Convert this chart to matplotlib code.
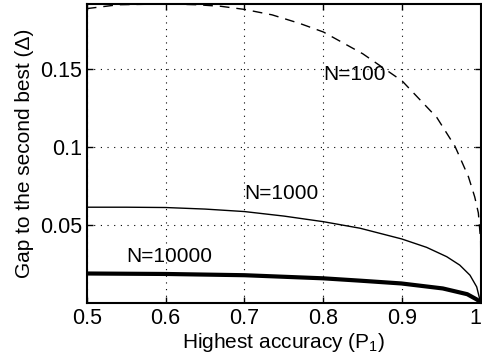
import matplotlib
matplotlib.use("Agg")
import matplotlib.pyplot as plt

plt.rcParams['font.family'] = ['Liberation Sans', 'DejaVu Sans']
plt.rcParams['mathtext.fontset'] = 'custom'
plt.rcParams['mathtext.rm'] = 'Liberation Sans'

# values
p100 = [0.5, 0.54, 0.6, 0.64, 0.67, 0.7, 0.735, 0.77, 0.8, 0.85, 0.9, 0.944,
        0.967, 0.984, 0.992, 0.9966, 0.9995, 1.0]
d100 = [0.189, 0.1915, 0.192, 0.1915, 0.1905, 0.1885, 0.185, 0.1795, 0.174, 0.160,
        0.1425, 0.119, 0.1005, 0.081, 0.068, 0.0577, 0.040, 0.0]

p1000 = [0.5, 0.55, 0.6, 0.65, 0.7, 0.75, 0.8, 0.8465, 0.8994, 0.931, 0.9565,
         0.973, 0.986, 0.9945, 0.9987, 1.0]
d1000 = [0.0614, 0.0614, 0.0612, 0.0602, 0.0586, 0.0557, 0.0521, 0.0479, 0.041,
         0.0356, 0.0296, 0.0242, 0.0177, 0.0102, 0.0016, 0.0]

p10000 = [0.5, 0.6, 0.7, 0.8, 0.8465, 0.899, 0.9515, 0.9825, 0.995, 1.0]
d10000 = [0.0188, 0.0185, 0.0177, 0.0157, 0.0142, 0.0124, 0.0092, 0.0055, 0.0020, 0.0]

xticks = [0.5, 0.6, 0.7, 0.8, 0.9, 1.0]
xticklabels = ["0.5", "0.6", "0.7", "0.8", "0.9", "1"]
yticks = [0.05, 0.1, 0.15]
yticklabels = ["0.05", "0.1", "0.15"]

fig = plt.figure(figsize=(4.82, 3.6), dpi=100)
ax = fig.add_axes([0.180, 0.159, 0.818, 0.830])

ax.plot(p100, d100, 'k', lw=1.0, dashes=(7, 5))
ax.plot(p1000, d1000, 'k-', lw=1.0)
ax.plot(p10000, d10000, 'k-', lw=3.0)

ax.text(0.839, 0.1468, "N=100", fontsize=15, ha='center', va='center')
ax.text(0.747, 0.0700, "N=1000", fontsize=15, ha='center', va='center')
ax.text(0.605, 0.0300, "N=10000", fontsize=15, ha='center', va='center')

ax.set_xlim(0.5, 1.0)
ax.set_ylim(0, 0.192)
ax.set_xticks(xticks)
ax.set_xticklabels(xticklabels)
ax.get_xticklabels()[-1].set_ha('right')
ax.set_yticks(yticks)
ax.set_yticklabels(yticklabels)
ax.tick_params(direction='in', top=True, right=True, labelsize=15.5, length=4, width=1)
ax.grid(True, color='k', linestyle=(0, (1, 5)), linewidth=0.8)
for s in ax.spines.values():
    s.set_linewidth(1.5)

ax.set_xlabel("Highest accuracy (P$_{\\mathregular{1}}$)", fontsize=15, labelpad=2)
ax.set_ylabel("Gap to the second best (\u0394)", fontsize=15, labelpad=4)

fig.savefig("out.png", dpi=100)
